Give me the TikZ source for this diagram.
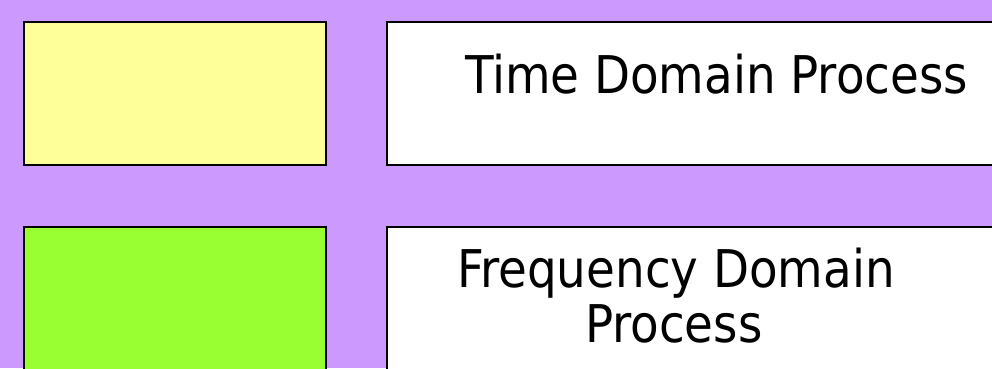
\documentclass[tikz,border=0pt]{standalone}
\usepackage{fontspec}
\newfontfamily\labelfont{DejaVu Sans Condensed}
\definecolor{bgpurple}{HTML}{CC99FF}
\definecolor{paleyellow}{HTML}{FFFF99}
\definecolor{limegreen}{HTML}{99FF33}
\tikzset{
  panel/.style={draw=black, line width=2pt},
  lbl/.style={font=\labelfont\fontsize{52}{55}\selectfont, inner sep=0pt, anchor=base west},
}
\begin{document}
\begin{tikzpicture}[x=1pt,y=-1pt]
\useasboundingbox (0,0) rectangle (992,368);
\clip (0,0) rectangle (992,368);
\fill[bgpurple] (0,0) rectangle (992,368);
\draw[panel, fill=paleyellow] (24,22) rectangle (326,165);
\draw[panel, fill=white] (387,22) rectangle (1000,165);
\draw[panel, fill=limegreen] (24,227) rectangle (326,380);
\draw[panel, fill=white] (387,227) rectangle (1000,380);
\node[lbl] (time) at (465,93) {Time Domain Process};
\node[lbl] (freq1) at (457,287) {Frequency Domain};
\node[lbl] (freq2) at (585,342) {Process};
\end{tikzpicture}
\end{document}
